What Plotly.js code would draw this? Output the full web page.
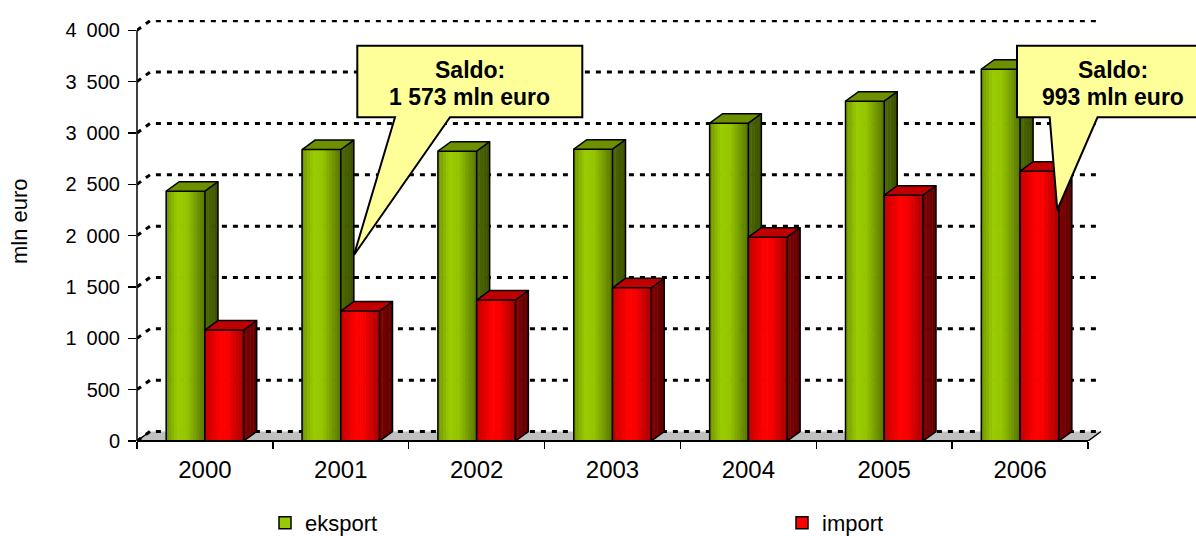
<!DOCTYPE html>
<html><head><meta charset="utf-8">
<script src="https://cdn.plot.ly/plotly-3.0.1.min.js"></script>
<style>html,body{margin:0;padding:0;background:#fff}#chart{width:1196px;height:536px}</style>
</head><body><div id="chart"></div>
<script>
// ---- data ----
const years = ['2000','2001','2002','2003','2004','2005','2006'];
const eksport = [2433, 2838, 2822, 2842, 3095, 3309, 3621];
const importVals = [1080, 1265, 1372, 1492, 1985, 2394, 2628];
const yTickVals = [0, 500, 1000, 1500, 2000, 2500, 3000, 3500, 4000];
const yTickText = ['0', '500', '1\u2002000', '1\u2002500', '2\u2002000', '2\u2002500', '3\u2002000', '3\u2002500', '4\u2002000'];
const seriesNames = ['eksport', 'import'];
const saldo1 = ['Saldo:', '1 573 mln euro'];
const saldo2 = ['Saldo:', '993 mln euro'];
const yTitle = 'mln euro';

// ---- geometry / style ----
const W = 1196, H = 536;
const L = 137, axisRight = 1088, plotRight = 1110, T = 20, B = 441;
const nCat = years.length;
const unit = (axisRight - L) / nCat;
const yMax = 4100;
const pxPerVal = (B - T) / yMax;
const DX = 13 / unit, DY = 9.5 / pxPerVal;
const xStart = -0.5, xEnd = nCat - 0.5;
const xRange = [xStart, xStart + (plotRight - L) / unit];
const pw = plotRight - L, ph = B - T;
const xp = px => (px - L) / pw;
const yp = py => (B - py) / ph;

function hex2rgb(h){return [parseInt(h.slice(1,3),16),parseInt(h.slice(3,5),16),parseInt(h.slice(5,7),16)];}
function grad(stops, t){
  for (let k = 0; k < stops.length - 1; k++){
    const t0 = stops[k][0], t1 = stops[k+1][0];
    if (t <= t1){
      const f = (t - t0) / (t1 - t0);
      const a = hex2rgb(stops[k][1]), b = hex2rgb(stops[k+1][1]);
      return 'rgb(' + a.map((v,j)=>Math.round(v + (b[j]-v)*f)).join(',') + ')';
    }
  }
  return stops[stops.length-1][1];
}

const traces = [];
// floor
traces.push({type:'scatter', mode:'lines', x:[xStart, xEnd, xEnd+DX, xStart+DX, xStart], y:[0,0,DY,DY,0],
  fill:'toself', fillcolor:'#C0C0C0', line:{width:0}, showlegend:false, hoverinfo:'skip'});
traces.push({type:'scatter', mode:'lines', x:[xStart, xStart+DX, null, xEnd, xEnd+DX], y:[0, DY, null, 0, DY],
  line:{color:'black', width:1.5}, showlegend:false, hoverinfo:'skip'});
// back-wall gridlines
(function(){
  const gx = [], gy = [];
  yTickVals.forEach(v => { gx.push(xStart, xStart+DX, xEnd+DX, null); gy.push(v, v+DY, v+DY, null); });
  traces.push({type:'scatter', mode:'lines', x:gx, y:gy, line:{color:'black', width:3, dash:'5px,6px'}, showlegend:false, hoverinfo:'skip'});
})();

function addBars(vals, off0, off1, frontStops, sideStops, topColor){
  const N = 14;
  for (let s = 0; s < N; s++){
    const xs = [], ys = [];
    vals.forEach((v, i) => {
      const a = i + off0 + (off1 - off0) * s / N, b = i + off0 + (off1 - off0) * (s + 1) / N;
      xs.push(a, a, b, b, a, null); ys.push(0, v, v, 0, 0, null);
    });
    const c = grad(frontStops, (s + 0.5) / N);
    traces.push({type:'scatter', mode:'lines', x:xs, y:ys, fill:'toself', fillcolor:c, line:{color:c, width:0.8}, showlegend:false, hoverinfo:'skip'});
  }
  const M = 4;
  for (let k = 0; k < M; k++){
    const xs = [], ys = [];
    vals.forEach((v, i) => {
      const x1 = i + off1;
      const xa = x1 + DX * k / M, xb = x1 + DX * (k + 1) / M, ya = DY * k / M, yb = DY * (k + 1) / M;
      xs.push(xa, xb, xb, xa, xa, null); ys.push(ya, yb, v + yb, v + ya, ya, null);
    });
    const c = grad(sideStops, (k + 0.5) / M);
    traces.push({type:'scatter', mode:'lines', x:xs, y:ys, fill:'toself', fillcolor:c, line:{color:c, width:0.6}, showlegend:false, hoverinfo:'skip'});
  }
  // top
  const tx = [], ty = [];
  vals.forEach((v, i) => {
    const x0 = i + off0, x1 = i + off1;
    tx.push(x0, x0 + DX, x1 + DX, x1, x0, null); ty.push(v, v + DY, v + DY, v, v, null);
  });
  traces.push({type:'scatter', mode:'lines', x:tx, y:ty, fill:'toself', fillcolor:topColor, line:{width:0}, showlegend:false, hoverinfo:'skip'});
  // outlines
  const ox = [], oy = [];
  vals.forEach((v, i) => {
    const x0 = i + off0, x1 = i + off1;
    ox.push(x0, x0, x0 + DX, x1 + DX, x1 + DX, x1, x0, null); oy.push(0, v, v + DY, v + DY, DY, 0, 0, null);
    ox.push(x0, x1, x1 + DX, null); oy.push(v, v, v + DY, null);
    ox.push(x1, x1, null); oy.push(v, 0, null);
  });
  traces.push({type:'scatter', mode:'lines', x:ox, y:oy, line:{color:'black', width:1.5}, showlegend:false, hoverinfo:'skip'});
}

addBars(eksport, -0.285, 0,
  [[0,'#6E9200'],[0.3,'#9ACD00'],[0.55,'#94C400'],[1,'#587500']],
  [[0,'#506B00'],[1,'#3B5000']], '#6C9000');
addBars(importVals, 0, 0.285,
  [[0,'#C20000'],[0.4,'#FF0000'],[0.6,'#F80000'],[1,'#A80000']],
  [[0,'#820000'],[1,'#5E0000']], '#C00000');

// legend entries
traces.push({type:'bar', x:[null], y:[null], name:seriesNames[0], legend:'legend', marker:{color:'#99CC00', line:{color:'black', width:1.5}}, hoverinfo:'skip'});
traces.push({type:'bar', x:[null], y:[null], name:seriesNames[1], legend:'legend2', marker:{color:'#FF0000', line:{color:'black', width:1.5}}, hoverinfo:'skip'});

function pathFrom(pts){ return 'M' + pts.map(p => xp(p[0]).toFixed(5) + ',' + yp(p[1]).toFixed(5)).join('L') + 'Z'; }

const shapes = [
  {type:'line', xref:'x', yref:'paper', x0:xStart, x1:xEnd, y0:0, y1:0, line:{color:'black', width:2}, layer:'above'},
  {type:'line', xref:'paper', yref:'y', x0:0, x1:0, y0:0, y1:yTickVals[yTickVals.length-1], line:{color:'black', width:1.5}, layer:'above'},
  {type:'path', xref:'paper', yref:'paper', layer:'above', fillcolor:'#FFFF99', line:{color:'black', width:2},
    path: pathFrom([[357.3,45.7],[582.3,45.7],[582.3,117.3],[450,117.3],[354,255],[395,117.3],[357.3,117.3]])},
  {type:'path', xref:'paper', yref:'paper', layer:'above', fillcolor:'#FFFF99', line:{color:'black', width:2},
    path: pathFrom([[1017,45.7],[1220,45.7],[1220,117.3],[1097.5,117.3],[1057.3,210],[1049.7,117.3],[1017,117.3]])}
];

const bold = {family:'"Liberation Sans", Arial, sans-serif', size:23, color:'black', weight:'bold'};
const annotations = [
  {xref:'paper', yref:'paper', x:xp(469.7), y:yp(69.7), text:'<b>'+saldo1[0]+'</b>', showarrow:false, font:bold, xanchor:'center', yanchor:'middle'},
  {xref:'paper', yref:'paper', x:xp(469.7), y:yp(97.4), text:'<b>'+saldo1[1]+'</b>', showarrow:false, font:bold, xanchor:'center', yanchor:'middle'},
  {xref:'paper', yref:'paper', x:xp(1112.8), y:yp(69.7), text:'<b>'+saldo2[0]+'</b>', showarrow:false, font:bold, xanchor:'center', yanchor:'middle'},
  {xref:'paper', yref:'paper', x:xp(1112.8), y:yp(97.4), text:'<b>'+saldo2[1]+'</b>', showarrow:false, font:bold, xanchor:'center', yanchor:'middle'},
  {xref:'paper', yref:'paper', x:xp(19), y:yp(221), text:yTitle, textangle:-90, showarrow:false, font:{size:22, color:'black'}, xanchor:'center', yanchor:'middle'}
];

const legendBase = {orientation:'h', xanchor:'left', yanchor:'top', y:yp(502), font:{size:22, color:'black'},
  bgcolor:'rgba(0,0,0,0)', borderwidth:0};

const layout = {
  width:W, height:H,
  margin:{l:L, r:W-plotRight, t:T, b:H-B, pad:0, autoexpand:false},
  paper_bgcolor:'white', plot_bgcolor:'rgba(0,0,0,0)',
  font:{family:'"Liberation Sans", Arial, sans-serif', color:'black'},
  barmode:'overlay', hovermode:false, showlegend:true,
  xaxis:{range:xRange, tickmode:'array', tickvals:years.map((_,i)=>i), ticktext:years, ticks:'',
    showgrid:false, zeroline:false, showline:false, tickfont:{size:24, color:'black'}, ticklabelstandoff:12,
    minor:{tickmode:'array', tickvals:Array.from({length:nCat+1},(_,i)=>i-0.5), ticks:'outside', ticklen:7, tickwidth:1.5, tickcolor:'black', showgrid:false},
    fixedrange:true},
  yaxis:{range:[0,yMax], tickmode:'array', tickvals:yTickVals, ticktext:yTickText, ticks:'outside', ticklen:8, tickwidth:1.5, tickcolor:'black',
    showgrid:false, zeroline:false, showline:false, tickfont:{size:20, color:'black'}, ticklabelstandoff:4, fixedrange:true},
  legend:Object.assign({}, legendBase, {x:xp(265)}),
  legend2:Object.assign({}, legendBase, {x:xp(782)}),
  shapes:shapes, annotations:annotations
};
Plotly.newPlot('chart', traces, layout, {staticPlot:true, displayModeBar:false});
</script></body></html>
